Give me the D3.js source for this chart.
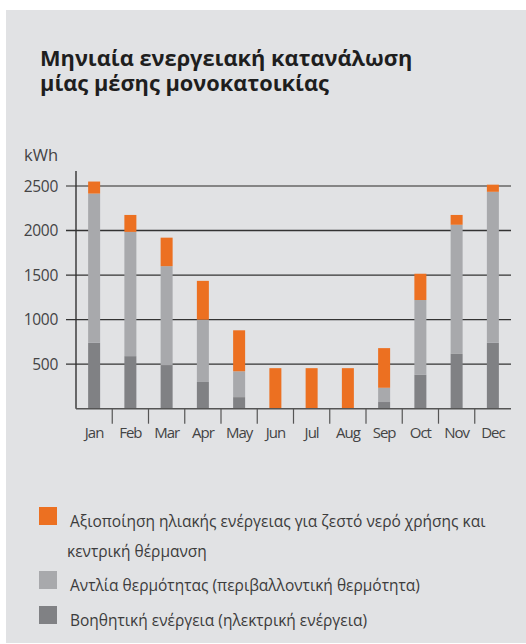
<!doctype html>
<html lang="el">
<head>
    <meta charset="utf-8"/>
    <title>Μηνιαία ενεργειακή κατανάλωση</title>
    <style>
        body { margin: 0; background: #fff; }
        svg { display: block; }
        text { font-family: "Open Sans", "DejaVu Sans", sans-serif; }
    </style>
    <script src="https://d3js.org/d3.v7.min.js"></script>
</head>
<body>
<svg width="526" height="644"></svg>
<script>

    // data (kWh)
    var months = ["Jan", "Feb", "Mar", "Apr", "May", "Jun", "Jul", "Aug", "Sep", "Oct", "Nov", "Dec"];
    var auxiliary = [740, 590, 490, 300, 130, 0, 0, 0, 75, 380, 615, 740];
    var heatPump = [1675, 1395, 1110, 700, 290, 0, 0, 0, 160, 840, 1450, 1695];
    var solar = [135, 190, 320, 435, 460, 455, 455, 455, 445, 295, 110, 80];
    var yTicks = [500, 1000, 1500, 2000, 2500];

    var seriesKeys = ["auxiliary", "heatPump", "solar"];
    var colors = { auxiliary: "#808184", heatPump: "#a8a9ac", solar: "#ec7021" };
    var titleLines = ["Μηνιαία ενεργειακή κατανάλωση", "μίας μέσης μονοκατοικίας"];
    var legendItems = [
        { key: "solar", lines: ["Αξιοποίηση ηλιακής ενέργειας για ζεστό νερό χρήσης και", "κεντρική θέρμανση"] },
        { key: "heatPump", lines: ["Αντλία θερμότητας (περιβαλλοντική θερμότητα)"] },
        { key: "auxiliary", lines: ["Βοηθητική ενέργεια (ηλεκτρική ενέργεια)"] }
    ];

    var table = months.map(function(m, i) {
        return { month: m, auxiliary: auxiliary[i], heatPump: heatPump[i], solar: solar[i] };
    });

    var svg = d3.select("svg");

    // grey panel
    svg.append("rect")
       .attr("x", 6).attr("y", 10)
       .attr("width", 520).attr("height", 633)
       .attr("fill", "#e1e2e4");

    // title, one text per line
    svg.selectAll(".title")
       .data(titleLines)
       .enter().append("text")
       .attr("x", 40)
       .attr("y", function(d, i) { return 66 + i * 25; })
       .attr("font-size", "21.8px")
       .attr("font-weight", "bold")
       .attr("fill", "#1e1e1e")
       .text(function(d) { return d; });

    var plotLeft = 76, plotRight = 511, plotTop = 186, plotBottom = 408.7;

    var x = d3.scaleBand().domain(months).range([plotLeft, plotRight]);
    var y = d3.scaleLinear().domain([0, 2500]).range([plotBottom, plotTop]);

    var g = svg.append("g");

    // horizontal grid lines
    g.selectAll(".grid")
     .data(yTicks)
     .enter().append("line")
     .attr("x1", plotLeft - 10)
     .attr("x2", plotRight)
     .attr("y1", function(d) { return y(d); })
     .attr("y2", function(d) { return y(d); })
     .attr("stroke", function(d) { return d === 2500 ? "#666" : "#333"; })
     .attr("stroke-width", 1.4);

    // y labels
    g.selectAll(".ylab")
     .data(yTicks)
     .enter().append("text")
     .attr("x", 58)
     .attr("y", function(d) { return y(d); })
     .attr("dy", "0.36em")
     .attr("text-anchor", "end")
     .attr("font-size", "15.5px")
     .attr("letter-spacing", "-0.3px")
     .attr("fill", "#444")
     .text(function(d) { return d; });

    svg.append("text")
       .attr("x", 24)
       .attr("y", 161)
       .attr("font-size", "16.5px")
       .attr("fill", "#444")
       .text("kWh");

    // stacked bars
    var stack = d3.stack().keys(seriesKeys)(table);
    var barW = 12;

    g.selectAll(".layer")
     .data(stack)
     .enter().append("g")
     .attr("fill", function(d) { return colors[d.key]; })
     .selectAll("rect")
     .data(function(d) { return d; })
     .enter().append("rect")
     .attr("x", function(d) { return x(d.data.month) + x.bandwidth() / 2 - barW / 2; })
     .attr("width", barW)
     .attr("y", function(d) { return y(d[1]); })
     .attr("height", function(d) { return y(d[0]) - y(d[1]); });

    // y axis line and baseline
    g.append("line")
     .attr("x1", plotLeft).attr("x2", plotLeft)
     .attr("y1", 171).attr("y2", plotBottom)
     .attr("stroke", "#333").attr("stroke-width", 1.4);
    g.append("line")
     .attr("x1", plotLeft).attr("x2", plotRight)
     .attr("y1", plotBottom).attr("y2", plotBottom)
     .attr("stroke", "#555").attr("stroke-width", 1.4);

    // category separators
    g.selectAll(".sep")
     .data(months.slice(1))
     .enter().append("line")
     .attr("x1", function(d) { return x(d); })
     .attr("x2", function(d) { return x(d); })
     .attr("y1", plotBottom)
     .attr("y2", plotBottom + 15)
     .attr("stroke", "#555")
     .attr("stroke-width", 1.2);

    g.selectAll(".xlab")
     .data(months)
     .enter().append("text")
     .attr("x", function(d) { return x(d) + x.bandwidth() / 2; })
     .attr("y", 437.5)
     .attr("text-anchor", "middle")
     .attr("font-size", "15px")
     .attr("letter-spacing", "-1px")
     .attr("fill", "#444")
     .text(function(d) { return d; });

    // legend
    var legendY = [507, 571, 606];
    var leg = svg.selectAll(".leg")
        .data(legendItems)
        .enter().append("g")
        .attr("transform", function(d, i) { return "translate(39," + legendY[i] + ")"; });

    leg.append("rect")
       .attr("width", 18).attr("height", 18)
       .attr("fill", function(d) { return colors[d.key]; });

    leg.append("text")
       .attr("font-size", "15.5px")
       .attr("fill", "#3c3c3c")
       .each(function(d) {
           var t = d3.select(this);
           d.lines.forEach(function(line, j) {
               t.append("tspan")
                .attr("x", j === 0 ? 31 : 28)
                .attr("y", 19.5 + j * 30)
                .text(line);
           });
       });

</script>
</body>
</html>
